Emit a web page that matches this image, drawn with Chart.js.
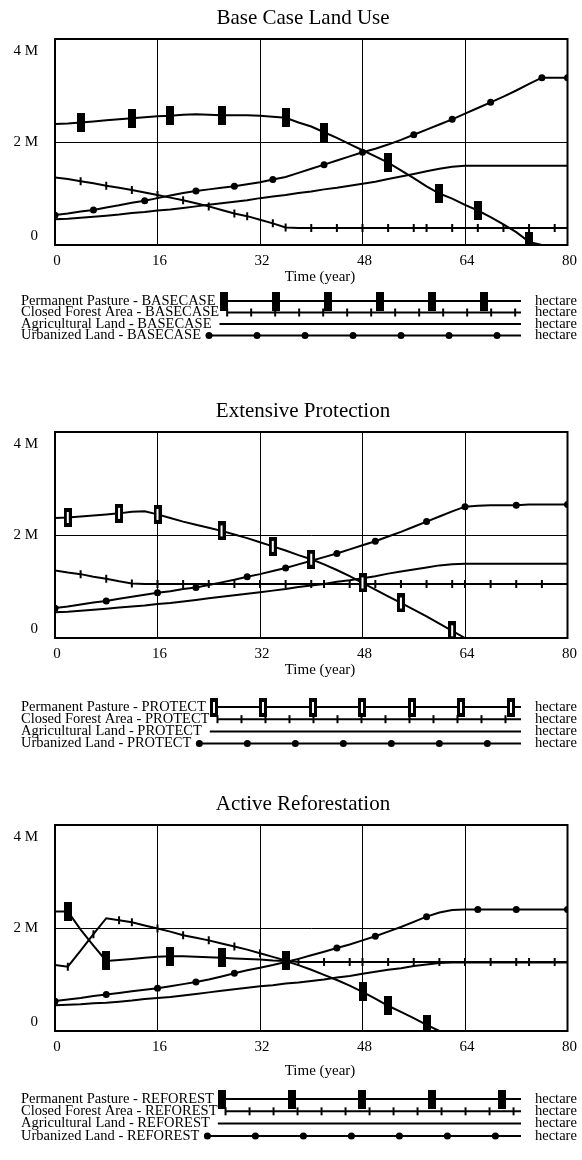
<!DOCTYPE html>
<html><head><meta charset="utf-8">
<script src="https://cdn.jsdelivr.net/npm/chart.js@4.4.1/dist/chart.umd.min.js"></script>
<style>
html,body{margin:0;padding:0;background:#fff;}
body{width:582px;height:1160px;overflow:hidden;position:relative;}
canvas{position:absolute;left:0;}
</style></head><body>
<canvas id="c1" width="582" height="393" style="top:0px"></canvas>
<canvas id="c2" width="582" height="393" style="top:393px"></canvas>
<canvas id="c3" width="582" height="374" style="top:786px"></canvas>
<script>
// ---- data (million hectares) ----
const years = [0,2,4,6,8,10,12,14,16,18,20,22,24,26,28,30,32,34,36,38,40,42,44,46,48,50,52,54,56,58,60,62,64,66,68,70,72,74,76,78,80];
const xTicks = [0,16,32,48,64,80];
const yTicks = [0,2,4];
const yTickLabels = ['0','2 M','4 M'];

const basePasture = [2.35,2.36,2.38,2.40,2.42,2.44,2.46,2.48,2.50,2.51,2.53,2.54,2.53,2.52,2.52,2.52,2.51,2.49,2.47,2.38,2.30,2.19,2.08,1.96,1.84,1.72,1.60,1.45,1.30,1.14,1.00,0.90,0.78,0.67,0.54,0.40,0.25,0.06,0,0,0];
const baseForest  = [1.31,1.28,1.24,1.20,1.15,1.11,1.07,1.02,0.97,0.92,0.87,0.81,0.75,0.68,0.61,0.56,0.49,0.42,0.34,0.33,0.33,0.33,0.33,0.33,0.33,0.33,0.33,0.33,0.33,0.33,0.33,0.33,0.33,0.33,0.33,0.33,0.33,0.33,0.33,0.33,0.33];
const baseAgri    = [0.50,0.51,0.53,0.55,0.57,0.59,0.62,0.64,0.67,0.69,0.72,0.75,0.78,0.81,0.84,0.87,0.91,0.94,0.97,1.01,1.04,1.08,1.11,1.15,1.19,1.23,1.28,1.33,1.38,1.43,1.48,1.52,1.54,1.54,1.54,1.54,1.54,1.54,1.54,1.54,1.54];
const baseUrban   = [0.58,0.61,0.65,0.68,0.73,0.77,0.82,0.86,0.91,0.96,1.01,1.05,1.08,1.11,1.14,1.18,1.22,1.27,1.32,1.40,1.48,1.56,1.64,1.72,1.80,1.87,1.95,2.04,2.14,2.24,2.34,2.44,2.55,2.66,2.77,2.88,3.00,3.13,3.25,3.25,3.25];

const protectPasture = [2.33,2.34,2.36,2.38,2.40,2.42,2.45,2.46,2.40,2.33,2.26,2.20,2.14,2.08,2.01,1.94,1.86,1.78,1.70,1.61,1.53,1.43,1.32,1.20,1.07,0.94,0.81,0.68,0.55,0.42,0.28,0.14,0,0,0,0,0,0,0,0,0];
const protectForest  = [1.31,1.27,1.24,1.19,1.15,1.10,1.06,1.05,1.05,1.05,1.05,1.05,1.05,1.05,1.05,1.05,1.05,1.05,1.05,1.05,1.05,1.05,1.05,1.05,1.05,1.05,1.05,1.05,1.05,1.05,1.05,1.05,1.05,1.05,1.05,1.05,1.05,1.05,1.05,1.05,1.05];
const protectAgri    = [0.50,0.51,0.53,0.55,0.57,0.59,0.61,0.63,0.66,0.68,0.71,0.74,0.77,0.80,0.83,0.86,0.89,0.92,0.95,0.99,1.02,1.05,1.09,1.12,1.16,1.20,1.25,1.29,1.33,1.37,1.41,1.43,1.44,1.44,1.44,1.44,1.44,1.44,1.44,1.44,1.44];
const protectUrban   = [0.58,0.61,0.65,0.69,0.72,0.76,0.80,0.84,0.88,0.91,0.95,0.98,1.03,1.08,1.13,1.19,1.24,1.30,1.36,1.43,1.50,1.57,1.64,1.72,1.80,1.88,1.97,2.06,2.16,2.26,2.36,2.46,2.55,2.57,2.58,2.58,2.58,2.59,2.59,2.59,2.59];

const reforestPasture = [2.32,2.32,1.97,1.66,1.36,1.38,1.40,1.42,1.44,1.45,1.45,1.44,1.43,1.42,1.41,1.40,1.39,1.37,1.36,1.28,1.19,1.09,0.99,0.88,0.76,0.63,0.49,0.37,0.25,0.12,0,0,0,0,0,0,0,0,0,0,0];
const reforestForest  = [1.28,1.25,1.56,1.88,2.19,2.15,2.11,2.05,1.99,1.93,1.86,1.81,1.76,1.70,1.64,1.58,1.51,1.44,1.37,1.34,1.34,1.34,1.34,1.34,1.34,1.34,1.34,1.34,1.34,1.34,1.34,1.34,1.34,1.34,1.34,1.34,1.34,1.34,1.34,1.34,1.34];
const reforestAgri    = [0.50,0.51,0.52,0.54,0.55,0.57,0.59,0.62,0.64,0.66,0.69,0.72,0.75,0.78,0.81,0.84,0.87,0.89,0.92,0.94,0.97,1.00,1.04,1.07,1.11,1.15,1.19,1.22,1.26,1.29,1.32,1.33,1.33,1.33,1.33,1.33,1.33,1.33,1.33,1.33,1.33];
const reforestUrban   = [0.58,0.61,0.64,0.68,0.71,0.74,0.77,0.80,0.83,0.87,0.91,0.95,1.00,1.06,1.12,1.18,1.23,1.28,1.34,1.40,1.47,1.54,1.61,1.68,1.76,1.84,1.93,2.02,2.12,2.22,2.30,2.35,2.36,2.36,2.36,2.36,2.36,2.36,2.36,2.36,2.36];

// years at which line markers appear
const baseMarks = {
  pasture: [4,12,18,26,36,42,52,60,66,74],
  forest:  [0,4,8,12,16,20,24,28,30,34,36,40,44,48,52,56,58,62,66,70,74,78],
  urban:   [0,6,14,22,28,34,42,48,56,62,68,76,80]
};
const protectMarks = {
  pasture: [2,10,16,26,34,40,48,54,62],
  forest:  [0,4,8,12,16,20,24,28,32,36,40,42,46,50,54,58,62,64,68,72,76],
  urban:   [0,8,16,22,30,36,44,50,58,64,72,80]
};
const reforestMarks = {
  pasture: [2,8,18,26,36,48,52,58],
  forest:  [2,6,10,12,16,20,24,28,32,36,38,42,46,48,52,56,60,64,68,72,74,78],
  urban:   [0,8,16,22,28,36,44,50,58,66,72,80]
};

// ---- styling helpers ----
const SERIF = "'Liberation Serif','Times New Roman',serif";
function barMarker(hollow){
  const c = document.createElement('canvas'); c.width = 8; c.height = 19;
  const g = c.getContext('2d'); g.fillStyle = '#000'; g.fillRect(0,0,8,19);
  if (hollow){ g.fillStyle = '#fff'; g.fillRect(3,4,2,11); }
  return c;
}
function drawMark(ctx, kind, img, x, y){
  ctx.save();
  ctx.fillStyle = '#000'; ctx.strokeStyle = '#000';
  if (kind === 'pasture'){ ctx.drawImage(img, Math.round(x - img.width/2), Math.round(y - img.height/2)); }
  else if (kind === 'forest'){ ctx.lineWidth = 2; ctx.beginPath(); ctx.moveTo(x, y-4); ctx.lineTo(x, y+4); ctx.stroke(); }
  else if (kind === 'urban'){ ctx.beginPath(); ctx.arc(x, y, 3.5, 0, Math.PI*2); ctx.fill(); }
  ctx.restore();
}

const framePlugin = {
  id: 'frame',
  afterDraw(chart, args, o){
    const {ctx, chartArea:a} = chart;
    const ys = chart.scales.y;
    ctx.save();
    ctx.strokeStyle = '#000'; ctx.lineWidth = 2;
    ctx.strokeRect(a.left, a.top, a.right - a.left, a.bottom - a.top);
    // y tick labels
    ctx.fillStyle = '#000'; ctx.font = '15px ' + SERIF; ctx.textAlign = 'right'; ctx.textBaseline = 'middle';
    const shift = [-9, 0, 12];
    yTicks.forEach((v, i) => ctx.fillText(yTickLabels[i], 38, ys.getPixelForValue(v) + shift[i]));
    // title
    ctx.font = '21px ' + SERIF; ctx.textAlign = 'center';
    ctx.fillText(o.title, 303, 18);
    // x-axis title
    ctx.font = '15px ' + SERIF;
    ctx.fillText('Time (year)', 320, a.bottom + o.timeGap);
    // legend
    ctx.font = '14.5px ' + SERIF; ctx.textAlign = 'left';
    chart.data.datasets.forEach((ds, i) => {
      const y = a.bottom + o.legendGap + i*o.rowGap;
      ctx.fillStyle = '#000';
      ctx.fillText(ds.label, 21, y);
      const x0 = 21 + ctx.measureText(ds.label).width + 8, x1 = 521;
      ctx.lineWidth = 2; ctx.beginPath(); ctx.moveTo(x0, y); ctx.lineTo(x1, y); ctx.stroke();
      const step = o.steps[ds.kind];
      if (step) for (let x = x0; x <= x1 + 0.5; x += step) drawMark(ctx, ds.kind, ds.markImg, x, y);
      ctx.fillStyle = '#000';
      ctx.fillText('hectare', 535, y);
    });
    ctx.restore();
  }
};

function series(label, kind, values, marks, img){
  const pts = years.map((x, i) => ({x, y: values[i]}));
  const markSet = marks ? marks[kind] : null;
  const ds = {
    label, kind, markImg: img, data: pts,
    borderColor: '#000', borderWidth: 2, tension: 0, fill: false,
    pointBackgroundColor: '#000', pointBorderColor: '#000',
    pointRadius: 0
  };
  if (markSet){
    ds.pointRadius = c => markSet.includes(years[c.dataIndex]) ? (kind === 'forest' ? 4 : (kind === 'urban' ? 3.5 : 5)) : 0;
    if (kind === 'pasture'){ ds.pointStyle = img; }
    else if (kind === 'forest'){ ds.pointStyle = 'line'; ds.rotation = 90; ds.pointBorderWidth = 2; }
    else { ds.pointStyle = 'circle'; ds.pointBorderWidth = 0; }
  }
  return ds;
}

function makePanel(id, title, tag, vals, marks, frame, hollow, height){
  const img = barMarker(hollow);
  const datasets = [
    series('Permanent Pasture - ' + tag, 'pasture', vals[0], marks, img),
    series('Closed Forest Area - ' + tag, 'forest', vals[1], marks, img),
    series('Agricultural Land - ' + tag, 'agri', vals[2], null, img),
    series('Urbanized Land - ' + tag, 'urban', vals[3], marks, img)
  ];
  frame.title = title;
  new Chart(document.getElementById(id), {
    type: 'line',
    data: { datasets },
    options: {
      responsive: false, animation: false, events: [],
      layout: { padding: { left: 55, right: 13, top: 39, bottom: 0 } },
      plugins: { legend: { display: false }, tooltip: { enabled: false }, title: { display: false },
                 frame },
      scales: {
        x: {
          type: 'linear', min: 0, max: 80,
          afterBuildTicks: s => { s.ticks = xTicks.map(v => ({ value: v })); },
          afterFit: s => { s.height = height - 39 - 206; },
          ticks: { color: '#000', font: { family: SERIF, size: 15 }, padding: 7, labelOffset: 2, maxRotation: 0, autoSkip: false },
          grid: { color: '#000', lineWidth: 1, drawTicks: false },
          border: { display: true, color: '#000', width: 2 }
        },
        y: {
          min: 0, max: 4,
          afterBuildTicks: s => { s.ticks = yTicks.map(v => ({ value: v })); },
          afterFit: s => { s.width = 0; },
          ticks: { display: false },
          grid: { color: '#000', lineWidth: 1, drawTicks: false },
          border: { display: true, color: '#000', width: 2 }
        }
      }
    },
    plugins: [framePlugin]
  });
}

makePanel('c1', 'Base Case Land Use', 'BASECASE',
  [basePasture, baseForest, baseAgri, baseUrban], baseMarks,
  { steps: { pasture: 52, forest: 24, urban: 48 }, timeGap: 32, legendGap: 56, rowGap: 11.5 }, false, 393);
makePanel('c2', 'Extensive Protection', 'PROTECT',
  [protectPasture, protectForest, protectAgri, protectUrban], protectMarks,
  { steps: { pasture: 49.5, forest: 24, urban: 48 }, timeGap: 32, legendGap: 69, rowGap: 12.2 }, true, 393);
makePanel('c3', 'Active Reforestation', 'REFOREST',
  [reforestPasture, reforestForest, reforestAgri, reforestUrban], reforestMarks,
  { steps: { pasture: 70, forest: 24, urban: 48 }, timeGap: 40, legendGap: 68, rowGap: 12.3 }, false, 374);
</script>
</body></html>
